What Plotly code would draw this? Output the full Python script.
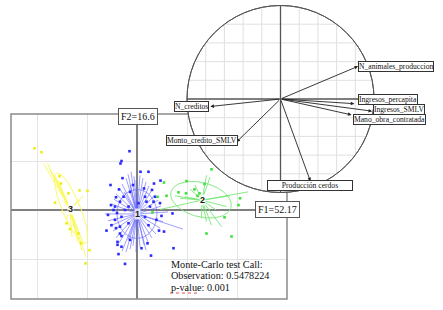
import numpy as np
import plotly.graph_objects as go

W, H = 443, 310

# ---------------- data: main factorial map (F1 x F2) ----------------
# group 1 (blue)
g1_x = [-0.15, -0.31, -0.33, 0.07, 0.23, -0.29, -0.53, 0.47, -0.36, 0.14, 0.36, -0.42, 0.19, 0.46,
        -0.52, -0.47, -0.40, 0.71, 0.49, -0.61, -0.42, -0.51, -0.34, -0.31, -0.39, -0.31, -0.14, 0.21,
        0.09, 0.54, 0.44, 0.73, -0.37, 0.28, -0.24, -0.39, 0.34, -0.34, -0.27, -0.17, 0.16, 0.26, 0.33,
        0.03, -0.24, -0.44, -0.44, -0.31, 0.16, 0.39, -0.17, 0.23, -0.34, -0.14, -0.08, -0.58, 0.30]
g1_y = [1.20, 1.00, 0.95, 0.78, 0.78, 0.65, 0.51, 0.60, 0.42, 0.44, 0.27, 0.26, 0.17, 0.14,
        0.10, 0.00, -0.06, -0.07, -0.12, -0.42, -0.37, -0.31, -0.48, -0.53, -0.65, -0.75, -0.61, -0.68,
        -0.78, -0.44, -0.42, -0.78, -0.90, -0.93, -1.10, -0.71, 0.54, 0.17, 0.27, 0.07, 0.27, 0.07, 0.17,
        0.14, 0.00, 0.07, -0.20, -0.14, -0.14, -0.20, -0.27, -0.31, -0.34, 0.37, 0.51, -0.10, 0.41]
g1_star_x = [-0.18, -0.12, -0.06, -0.22, -0.30, -0.36, 0.06, 0.12, 0.18, 0.24, 0.30, 0.36, -0.42, -0.46,
             0.42, -0.50, 0.48, -0.02, -0.14, -0.26, -0.30, -0.22, -0.14, -0.08, -0.36, -0.42, -0.48,
             -0.54, 0.06, 0.14, 0.22, 0.30, 0.38, 0.46, 0.92, -0.58, 0.52, -0.02, -0.18, 0.18, -0.64, 0.62]
g1_star_y = [0.73, 0.78, 0.69, 0.65, 0.53, 0.45, 0.71, 0.65, 0.57, 0.49, 0.41, 0.31, 0.33, 0.22,
             0.20, 0.12, 0.08, 0.61, 0.51, 0.37, -0.84, -0.86, -0.80, -0.73, -0.67, -0.57, -0.43,
             -0.33, -0.76, -0.71, -0.65, -0.57, -0.49, -0.37, -0.39, -0.22, -0.24, -0.86, -0.61, -0.82, -0.08, -0.04]

# group 2 (green)
g2_x = [1.49, 0.54, 1.35, 0.59, 0.83, 0.98, 1.25, 1.21, 2.06, 2.03, 1.75, 1.39, 1.89, 0.99, 1.15, 0.41, 0.31]
g2_y = [0.83, 0.56, 0.53, 0.29, 0.36, 0.34, 0.34, 0.29, 0.24, 0.10, -0.15, -0.48, -0.54, 0.59, 0.42, 0.27, -0.05]
g2_star_x = [2.22, 1.46, 1.39, 0.76, 1.69, 1.49, 1.39, 1.29, 0.46, 0.86, 1.79, 1.16, 1.06, 0.96, 1.58, 1.86]
g2_star_y = [0.37, 0.67, 0.71, 0.29, -0.34, -0.31, -0.24, -0.17, 0.01, 0.24, 0.07, 0.51, 0.43, 0.27, 0.00, 0.29]

# group 3 (yellow)
g3_x = [-2.05, -1.91, -1.55, -1.15, -0.99, -1.37, -1.52, -1.64, -1.41, -1.34, -1.17, -1.12, -0.95, -1.03]
g3_y = [1.26, 1.18, 0.69, 0.40, 0.39, 0.34, 0.54, 0.15, -0.27, -0.39, -0.48, -0.68, -0.82, -1.09]
g3_star_x = [-1.87, -1.79, -1.74, -1.64, -1.58, -1.54, -1.50, -1.08, -1.14, -1.02, -1.10, -1.18, -1.06,
             -1.22, -1.26, -1.46, -1.42, -1.30]
g3_star_y = [0.95, 0.95, 0.82, 0.69, 0.61, 0.47, 0.35, 0.29, 0.20, -0.96, -0.82, -0.65, -0.71,
             -0.47, -0.35, 0.18, -0.22, -0.55]

group_labels = ["1", "2", "3"]
group_cx = [0.00, 1.30, -1.34]
group_cy = [-0.08, 0.20, 0.02]
# ellipses: centre, semi-axes, angle (deg)
ell_cx = [0.00, 1.28, -1.32]
ell_cy = [-0.08, 0.21, 0.04]
ell_a = [0.40, 0.62, 0.77]
ell_b = [0.50, 0.35, 0.18]
ell_ang = [0, -15, -68]

eig_f1 = "F1=52.17"
eig_f2 = "F2=16.6"
mc_lines = ["Monte-Carlo test Call:", "Observation: 0.5478224", "p-value: 0.001"]

# ---------------- data: correlation circle ----------------
var_names = ["N_animales_produccion", "Ingresos_percapita", "Ingresos_SMLV", "Mano_obra_contratada",
             "N_creditos", "Monto_credito_SMLV", "Producción cerdos"]
var_f1 = [0.83, 0.79, 0.98, 0.76, -0.75, -0.47, 0.32]
var_f2 = [0.35, -0.05, -0.13, -0.17, -0.08, -0.46, -0.88]

# ---------------- styles / layout positions (pixels) ----------------
col_dot = ["#2a2aff", "#3ee03e", "#eeee10"]
col_line = ["rgba(95,95,255,0.6)", "rgba(120,232,120,0.9)", "rgba(250,250,95,0.95)"]
label_box = {  # x0, x1, y0, y1 in pixels
    "N_animales_produccion": (358, 434, 62, 71),
    "Ingresos_percapita": (358, 418, 95, 103),
    "Ingresos_SMLV": (374, 424, 105, 114),
    "Mano_obra_contratada": (353, 425, 115, 124),
    "N_creditos": (173, 210, 102, 111),
    "Monto_credito_SMLV": (167, 236, 136, 145),
    "Producción cerdos": (267, 353, 180, 191),
}
SERIF = "Liberation Serif, Times New Roman, serif"


def px(x):
    return x / W


def py(y):
    return 1 - y / H


fig = go.Figure()

stars = [(g1_star_x, g1_star_y), (g2_star_x, g2_star_y), (g3_star_x, g3_star_y)]
dots = [(g1_x, g1_y), (g2_x, g2_y), (g3_x, g3_y)]

for i in range(3):
    sx, sy = stars[i]
    lx, ly = [], []
    for a, b in zip(sx, sy):
        lx += [group_cx[i], a, None]
        ly += [group_cy[i], b, None]
    fig.add_trace(go.Scatter(x=lx, y=ly, mode="lines", line=dict(color=col_line[i], width=1),
                             hoverinfo="skip", showlegend=False))
    t = np.linspace(0, 2 * np.pi, 120)
    th = np.deg2rad(ell_ang[i])
    ex = ell_cx[i] + ell_a[i] * np.cos(t) * np.cos(th) - ell_b[i] * np.sin(t) * np.sin(th)
    ey = ell_cy[i] + ell_a[i] * np.cos(t) * np.sin(th) + ell_b[i] * np.sin(t) * np.cos(th)
    fig.add_trace(go.Scatter(x=ex, y=ey, mode="lines", line=dict(color=col_line[i], width=1),
                             hoverinfo="skip", showlegend=False))
    dx, dy = dots[i]
    fig.add_trace(go.Scatter(x=dx, y=dy, mode="markers",
                             marker=dict(symbol="square", size=2.6, color=col_dot[i], line=dict(width=0)),
                             hoverinfo="skip", showlegend=False))

# invisible trace to instantiate the circle subplot
fig.add_trace(go.Scatter(x=var_f1, y=var_f2, xaxis="x2", yaxis="y2", mode="markers",
                         marker=dict(opacity=0), hoverinfo="skip", showlegend=False))

shapes = []
# main frame
shapes.append(dict(type="rect", xref="x domain", yref="y domain", x0=0, x1=1, y0=0, y1=1,
                   line=dict(color="#8a8a8a", width=1.5), layer="above"))
# correlation circle (opaque)
shapes.append(dict(type="circle", xref="x2", yref="y2", x0=-1, x1=1, y0=-1, y1=1,
                   fillcolor="white", line=dict(color="#555", width=1), layer="above"))
for g in [-0.8, -0.6, -0.4, -0.2, 0.2, 0.4, 0.6, 0.8]:
    h = float(np.sqrt(1 - g * g))
    shapes.append(dict(type="line", xref="x2", yref="y2", x0=g, x1=g, y0=-h, y1=h,
                       line=dict(color="#e0e0e0", width=1), layer="above"))
    shapes.append(dict(type="line", xref="x2", yref="y2", x0=-h, x1=h, y0=g, y1=g,
                       line=dict(color="#e0e0e0", width=1), layer="above"))
shapes.append(dict(type="line", xref="x2", yref="y2", x0=-1, x1=1, y0=0, y1=0,
                   line=dict(color="#555", width=1.3), layer="above"))
shapes.append(dict(type="line", xref="x2", yref="y2", x0=0, x1=0, y0=-1, y1=1,
                   line=dict(color="#555", width=1.3), layer="above"))
shapes.append(dict(type="circle", xref="x2", yref="y2", x0=-1, x1=1, y0=-1, y1=1,
                   line=dict(color="#555", width=1), layer="above"))
# spell-check squiggle under "p-value"
shapes.append(dict(type="line", xref="paper", yref="paper", x0=px(170), x1=px(197), y0=py(293), y1=py(293),
                   line=dict(color="#e05050", width=1, dash="dot"), layer="above"))

ann = []
# arrows
for f1, f2 in zip(var_f1, var_f2):
    ann.append(dict(x=f1, y=f2, xref="x2", yref="y2", ax=0, ay=0, axref="x2", ayref="y2",
                    text="", showarrow=True, arrowhead=2, arrowsize=0.8, arrowwidth=0.9,
                    arrowcolor="#222", standoff=0, startstandoff=0))
# variable labels
for name in var_names:
    x0, x1, y0, y1 = label_box[name]
    extra = {}
    if name == "Producción cerdos":
        extra = dict(width=x1 - x0 - 2, height=y1 - y0 - 2)
    ann.append(dict(x=px((x0 + x1) / 2), y=py((y0 + y1) / 2), xref="paper", yref="paper",
                    text=name, showarrow=False, xanchor="center", yanchor="middle",
                    borderpad=0, bgcolor="white", bordercolor="#333", borderwidth=1,
                    font=dict(family=SERIF, size=7.6, color="#111"), **extra))
# eigenvalue labels
ann.append(dict(x=px(137.5), y=py(116.5), xref="paper", yref="paper", text=eig_f2, showarrow=False,
                xanchor="center", yanchor="middle", bgcolor="white", bordercolor="#555", borderwidth=1,
                borderpad=2, font=dict(family=SERIF, size=10, color="#111")))
ann.append(dict(x=px(277), y=py(210), xref="paper", yref="paper", text=eig_f1, showarrow=False,
                xanchor="center", yanchor="middle", bgcolor="white", bordercolor="#555", borderwidth=1,
                borderpad=2, font=dict(family=SERIF, size=10, color="#111")))
# group labels
for lab, cx, cy in zip(group_labels, group_cx, group_cy):
    ann.append(dict(x=cx, y=cy, xref="x", yref="y", text="<b>" + lab + "</b>", showarrow=False,
                    xanchor="center", yanchor="middle", bgcolor="rgba(255,255,255,0.8)", borderpad=0,
                    font=dict(family="Liberation Sans, Arial, sans-serif", size=9, color="#222")))
# Monte-Carlo text
for k, (line, yy) in enumerate(zip(mc_lines, [264, 275.5, 287])):
    ann.append(dict(x=px(169), y=py(yy), xref="paper", yref="paper", text=line, showarrow=False,
                    xanchor="left", yanchor="middle", font=dict(family=SERIF, size=10.2, color="#111")))

fig.update_layout(
    width=W, height=H, margin=dict(l=0, r=0, t=0, b=0),
    paper_bgcolor="white", plot_bgcolor="rgba(0,0,0,0)",
    xaxis=dict(domain=[px(11), px(287)], range=[-2.52, 3.0], dtick=1, tick0=0, showgrid=True,
               gridcolor="#e4e4e4", gridwidth=1, zeroline=True, zerolinecolor="#808080", zerolinewidth=2,
               showticklabels=False, ticks="", showline=False, fixedrange=True),
    yaxis=dict(domain=[py(299), py(114)], range=[-1.816, 1.959], dtick=1, tick0=0, showgrid=True,
               gridcolor="#e4e4e4", gridwidth=1, zeroline=True, zerolinecolor="#808080", zerolinewidth=2,
               showticklabels=False, ticks="", showline=False, fixedrange=True),
    xaxis2=dict(domain=[px(185.5), px(375.5)], range=[-1.016, 1.016], anchor="y2", visible=False),
    yaxis2=dict(domain=[py(194), py(4)], range=[-1.016, 1.016], anchor="x2", visible=False),
    shapes=shapes, annotations=ann, showlegend=False,
)

fig.write_html("out.html", config={"displayModeBar": False},
               post_script="document.body.style.margin='0';document.body.style.padding='0';")
